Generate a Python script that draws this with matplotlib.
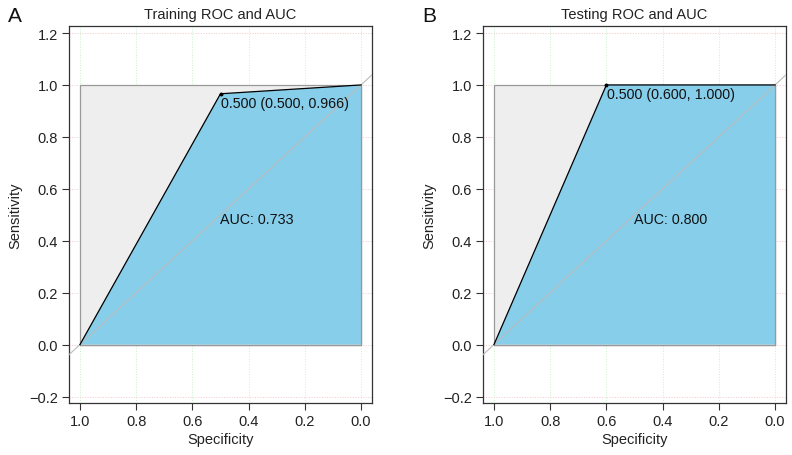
import matplotlib.pyplot as plt
import numpy as np

plt.rcParams['font.family'] = ['Liberation Sans', 'DejaVu Sans']

# ROC points (specificity, sensitivity)
train_spec = [1.0, 0.5, 0.0]
train_sens = [0.0, 0.966, 1.0]
test_spec = [1.0, 0.6, 0.0]
test_sens = [0.0, 1.0, 1.0]
titles = ['Training ROC and AUC', 'Testing ROC and AUC']
panel_labels = ['A', 'B']
auc_texts = ['AUC: 0.733', 'AUC: 0.800']
thres_texts = ['0.500 (0.500, 0.966)', '0.500 (0.600, 1.000)']
thres_pts = [(0.5, 0.966), (0.6, 1.0)]
ticks = [1.0, 0.8, 0.6, 0.4, 0.2, 0.0]
yticks = [-0.2, 0.0, 0.2, 0.4, 0.6, 0.8, 1.0, 1.2]

fig = plt.figure(figsize=(7.92, 4.56), dpi=100)
W, H = 792, 456
boxes = [(69, 27, 372, 404), (483, 27, 786, 404)]

curves = [(train_spec, train_sens), (test_spec, test_sens)]
for i, (spec, sens) in enumerate(curves):
    l, t, r, b = boxes[i]
    ax = fig.add_axes([l / W, 1 - b / H, (r - l) / W, (b - t) / H])
    ax.set_xlim(1.039, -0.039)
    ax.set_ylim(-0.225, 1.227)

    # grid
    for x in ticks:
        ax.axvline(x, color='#c8f0c8', lw=0.7, ls=':', zorder=0)
    for y in yticks:
        ax.axhline(y, color='#f5c8c8', lw=0.7, ls=':', zorder=0)

    # max AUC region
    ax.fill([1, 0, 0, 1], [0, 0, 1, 1], facecolor='#eeeeee', edgecolor='#999999',
            lw=0.9, zorder=1)
    # AUC polygon
    ax.fill(list(spec) + [0.0], list(sens) + [0.0], facecolor='#87ceeb',
            edgecolor='none', zorder=2)
    ax.plot([1, 0, 0], [0, 0, 1], color='#999999', lw=0.9, zorder=2.5)
    # diagonal
    xx = np.array([1.1, -0.1])
    ax.plot(xx, 1 - xx, color='#bbbbbb', lw=0.8, zorder=3)
    # ROC curve
    ax.plot(spec, sens, color='black', lw=0.9, zorder=4)
    px, py = thres_pts[i]
    ax.plot(px, py, 'o', color='black', ms=1.8, zorder=5)
    ax.text(px - 0.002, py - 0.036, thres_texts[i], ha='left', va='center',
            fontsize=10.3, color='#111111', zorder=6)
    ax.text(0.5, 0.485, auc_texts[i], ha='left', va='center', fontsize=10.3,
            color='#111111', zorder=6)

    ax.set_xticks(ticks)
    ax.set_xticklabels(['%.1f' % v for v in ticks])
    ax.set_yticks(yticks)
    ax.set_yticklabels(['\u22120.2' if v < 0 else '%.1f' % v for v in yticks])
    ax.tick_params(labelsize=10.5, length=5, width=0.8, color='#333333',
                   labelcolor='#222222', pad=3)
    for s in ax.spines.values():
        s.set_color('#333333')
        s.set_linewidth(0.9)
    ax.set_xlabel('Specificity', fontsize=10.5, color='#222222', labelpad=3)
    ax.set_ylabel('Sensitivity', fontsize=10.5, color='#222222', labelpad=5)
    ax.set_title(titles[i], fontsize=10.5, color='#222222', pad=6)
    fig.text((l - 61) / W, 1 - 16 / H, panel_labels[i], fontsize=15,
             ha='left', va='center', color='#111111')

fig.savefig('out.png', dpi=100)
